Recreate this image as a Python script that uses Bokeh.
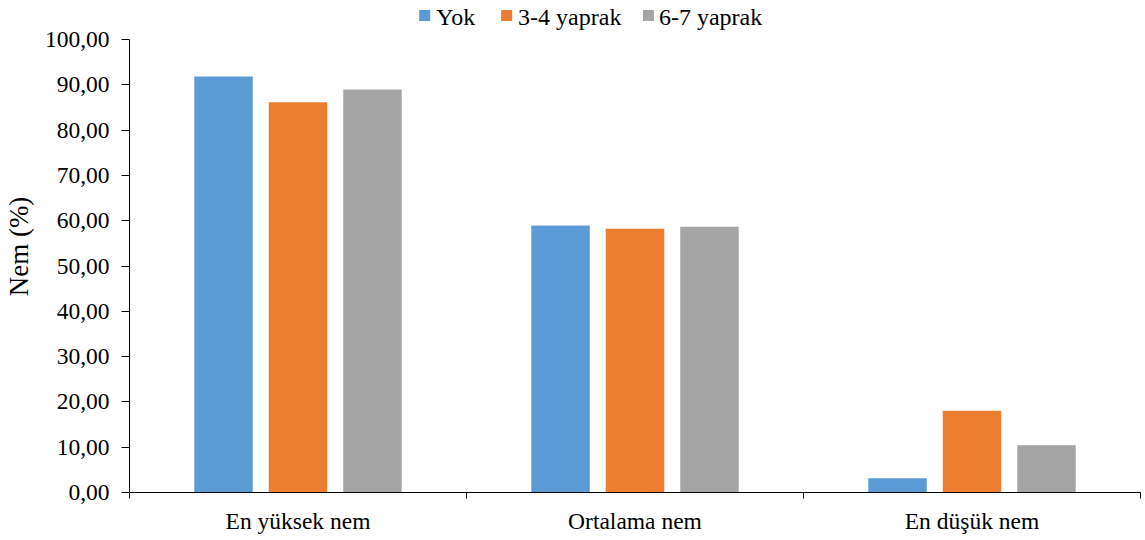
from bokeh.plotting import figure
from bokeh.models import FixedTicker, Range1d, Label
from bokeh.embed import file_html
from bokeh.resources import INLINE

# Humidity values (%) for each canopy treatment
categories = ["En yüksek nem", "Ortalama nem", "En düşük nem"]
series_names = ["Yok", "3-4 yaprak", "6-7 yaprak"]
yok = [91.9, 59.0, 3.2]
yaprak_3_4 = [86.2, 58.3, 18.1]
yaprak_6_7 = [89.0, 58.7, 10.5]
y_ticks = [0, 10, 20, 30, 40, 50, 60, 70, 80, 90, 100]
y_tick_labels = ["0,00", "10,00", "20,00", "30,00", "40,00", "50,00",
                 "60,00", "70,00", "80,00", "90,00", "100,00"]

series = [yok, yaprak_3_4, yaprak_6_7]
colors = ["#5B9BD5", "#ED7D31", "#A5A5A5"]
offsets = [-0.221, 0.0, 0.221]
bar_w = 0.175
FONT = "Liberation Serif"

W, H = 1145, 540
LEFT, RIGHT, BOTTOM = 128, 5, 48
FRAME_W = W - LEFT - RIGHT
FRAME_H = H - BOTTOM
# The frame reaches the top edge so the legend can sit above the 100 mark;
# the y axis line itself stops at 100.
Y_TOP = 100 * FRAME_H / 453.0
N = len(categories)

def sx(px):
    """Screen x (pixels from left) to data x."""
    return (px - LEFT) * N / FRAME_W

def sy(py):
    """Screen y (pixels from top) to data y."""
    return (FRAME_H - py) * Y_TOP / FRAME_H

p = figure(width=W, height=H, output_backend="svg", toolbar_location=None,
           x_range=Range1d(0, N), y_range=Range1d(0, Y_TOP),
           min_border_left=LEFT, min_border_right=RIGHT, min_border_top=0,
           min_border_bottom=BOTTOM)
p.outline_line_color = None
p.xgrid.visible = False
p.ygrid.visible = False

for vals, col, off in zip(series, colors, offsets):
    xs = [i + 0.5 + off for i in range(N)]
    p.vbar(x=xs, top=vals, width=bar_w, bottom=0, fill_color=col,
           line_color="white", line_alpha=0.5, line_width=1)

# x axis: labels at category centres, tick marks at category boundaries
p.xaxis.ticker = FixedTicker(ticks=[i + 0.5 for i in range(N)],
                             minor_ticks=list(range(N + 1)))
p.xaxis.major_label_overrides = {i + 0.5: c for i, c in enumerate(categories)}
p.xaxis.major_tick_out = 0
p.xaxis.major_tick_in = 0
p.xaxis.minor_tick_out = 6
p.xaxis.minor_tick_in = 0
p.xaxis.minor_tick_line_color = "#000000"
p.xaxis.axis_line_color = "#000000"
p.xaxis.major_label_text_font = FONT
p.xaxis.major_label_text_font_size = "23.5px"
p.xaxis.major_label_text_color = "#000000"
p.xaxis.major_label_standoff = 9

# y axis
p.yaxis.ticker = FixedTicker(ticks=y_ticks, minor_ticks=[])
p.yaxis.bounds = (0, 100)
p.yaxis.major_label_overrides = {t: l for t, l in zip(y_ticks, y_tick_labels)}
p.yaxis.major_tick_out = 8
p.yaxis.major_tick_in = 0
p.yaxis.major_tick_line_color = "#000000"
p.yaxis.axis_line_color = "#000000"
p.yaxis.major_label_text_font = FONT
p.yaxis.major_label_text_font_size = "23.5px"
p.yaxis.major_label_text_color = "#000000"
p.yaxis.major_label_standoff = 12
p.yaxis.axis_label = "Nem (%)"
p.yaxis.axis_label_text_font = FONT
p.yaxis.axis_label_text_font_size = "27px"
p.yaxis.axis_label_text_font_style = "normal"
p.yaxis.axis_label_text_color = "#000000"
p.yaxis.axis_label_standoff = 8

# Legend row above the plot: colour swatch followed by the series name
swatch_px = [423.5, 505.5, 647.5]
label_px = [435, 517, 658]
legend_py = 15
p.rect(x=[sx(v) for v in swatch_px], y=[sy(legend_py)] * 3, width=11, height=11,
       width_units="screen", height_units="screen", fill_color=colors, line_color=None)
for name, lx in zip(series_names, label_px):
    p.add_layout(Label(x=sx(lx), y=sy(legend_py + 1), text=name,
                       text_font=FONT, text_font_size="24px", text_color="#000000",
                       text_align="left", text_baseline="middle"))

open("out.html", "w").write(file_html(p, INLINE))
